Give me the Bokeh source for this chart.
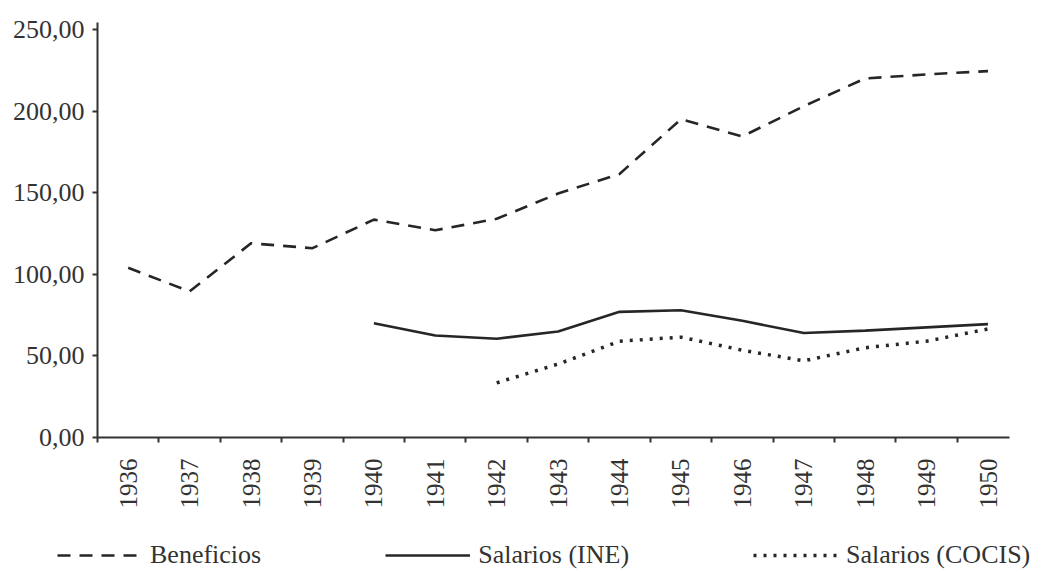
import math
from bokeh.plotting import figure
from bokeh.models import Range1d, FixedTicker, Legend, LegendItem
from bokeh.layouts import column
from bokeh.embed import file_html
from bokeh.resources import INLINE

years = [1936, 1937, 1938, 1939, 1940, 1941, 1942, 1943, 1944, 1945, 1946, 1947, 1948, 1949, 1950]
beneficios = [104.0, 89.5, 119.0, 116.0, 133.5, 127.0, 134.0, 149.5, 161.5, 195.0, 184.5, 203.0, 220.0, 222.5, 224.5]
ine_years = [1940, 1941, 1942, 1943, 1944, 1945, 1946, 1947, 1948, 1949, 1950]
salarios_ine = [70.0, 62.5, 60.5, 65.0, 77.0, 78.0, 71.5, 64.0, 65.5, 67.5, 69.5]
cocis_years = [1942, 1943, 1944, 1945, 1946, 1947, 1948, 1949, 1950]
salarios_cocis = [33.5, 45.0, 59.0, 61.5, 53.5, 47.0, 55.0, 59.0, 66.5]
y_ticks = [0, 50, 100, 150, 200, 250]
y_tick_labels = ["0,00", "50,00", "100,00", "150,00", "200,00", "250,00"]
series_names = ["Beneficios", "Salarios (INE)", "Salarios (COCIS)"]

FONT = "Liberation Serif"
INK = "#262626"
AXC = "#333333"

styles = [dict(line_color=INK, line_width=2.6, line_dash="13 9"),
          dict(line_color=INK, line_width=2.6),
          dict(line_color=INK, line_width=3.5, line_dash="3 7")]
series = [(years, beneficios), (ine_years, salarios_ine), (cocis_years, salarios_cocis)]

p = figure(width=1040, height=518, output_backend="svg", toolbar_location=None,
           x_range=Range1d(1935.5, 1950.35), y_range=Range1d(0, 254.3),
           min_border_left=97, min_border_right=31, min_border_top=22, min_border_bottom=81)
p.frame_align = False
p.outline_line_color = None
p.grid.visible = False
p.background_fill_color = "white"
p.border_fill_color = "white"

for (xs, ys), st in zip(series, styles):
    p.line(xs, ys, **st)

# x axis: labels at category centres, tick marks at boundaries
xa = p.xaxis[0]
xa.ticker = FixedTicker(ticks=years, minor_ticks=[y - 0.5 for y in years])
xa.major_label_overrides = {y: str(y) for y in years}
xa.major_tick_line_color = None
xa.major_tick_out = 0
xa.major_tick_in = 0
xa.minor_tick_out = 5
xa.minor_tick_in = 0
xa.minor_tick_line_width = 2
xa.minor_tick_line_color = AXC
xa.major_label_orientation = math.pi / 2
xa.major_label_standoff = 16
xa.major_label_text_font = FONT
xa.major_label_text_font_size = "25px"
xa.major_label_text_color = AXC
xa.axis_line_width = 2
xa.axis_line_color = AXC

ya = p.yaxis[0]
ya.ticker = FixedTicker(ticks=y_ticks, minor_ticks=[])
ya.major_label_overrides = {t: l for t, l in zip(y_ticks, y_tick_labels)}
ya.major_tick_out = 5
ya.major_tick_in = 0
ya.major_tick_line_width = 2
ya.major_tick_line_color = AXC
ya.minor_tick_line_color = None
ya.major_label_standoff = 8
ya.major_label_text_font = FONT
ya.major_label_text_font_size = "26px"
ya.major_label_text_color = AXC
ya.axis_line_width = 2
ya.axis_line_color = AXC

# legend strip below the chart
lg = figure(width=1040, height=54, output_backend="svg", toolbar_location=None,
            x_axis_type=None, y_axis_type=None,
            x_range=Range1d(0, 1), y_range=Range1d(0, 1),
            min_border_left=0, min_border_right=0, min_border_top=0, min_border_bottom=0)
lg.frame_align = False
lg.outline_line_color = None
lg.grid.visible = False
items = []
for (xs, ys), st, name in zip(series, styles, series_names):
    r = lg.line(xs, ys, visible=False, **st)
    items.append(LegendItem(label=name, renderers=[r]))

legend = Legend(items=items, orientation="horizontal", location=(57, 2),
                glyph_width=85, glyph_height=24, label_height=24, label_standoff=8,
                spacing=124, padding=0, margin=0,
                border_line_color=None, background_fill_alpha=0, inactive_fill_alpha=0,
                label_text_font=FONT, label_text_font_size="26px", label_text_color=AXC)
lg.add_layout(legend, "center")

layout = column(p, lg, spacing=0)
open("out.html", "w").write(file_html(layout, INLINE))
